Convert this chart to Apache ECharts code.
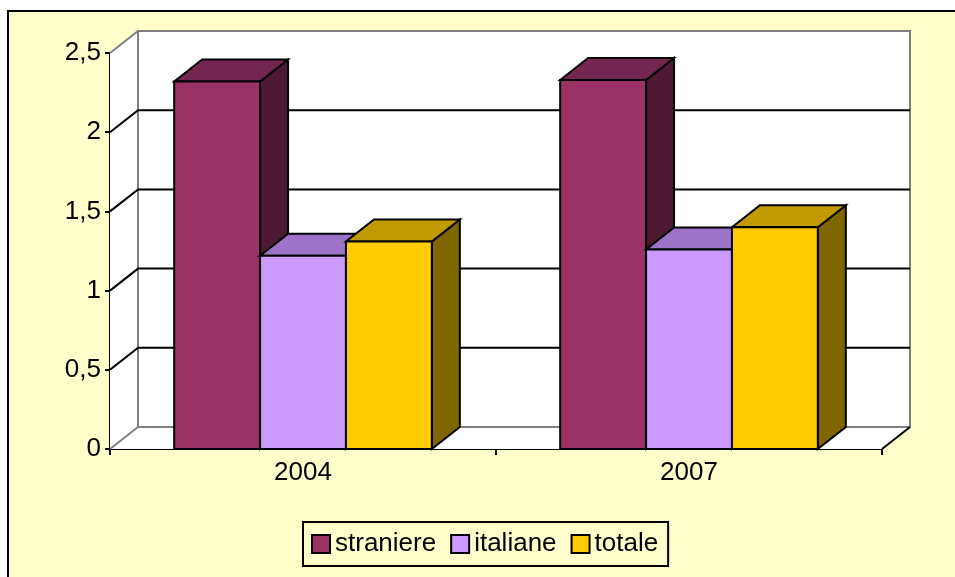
<!DOCTYPE html>
<html style="height: 100%">
<head>
    <meta charset="utf-8">
    <style>
        html, body { margin: 0; padding: 0; background: #fff; }
        #container { width: 955px; height: 577px; }
    </style>
</head>
<body>
<div id="container"></div>
<script src="https://cdn.jsdelivr.net/npm/echarts@6/dist/echarts.min.js"></script>
<script type="text/javascript">
    // dati
    var categories = ['2004', '2007'];
    var straniere = [2.32, 2.33];
    var italiane = [1.22, 1.26];
    var totale = [1.31, 1.40];
    var gridValues = [0.5, 1, 1.5, 2];

    // profondita' della vista 3D (pixel)
    var DX = 28, DY = -22;
    var FONT = 'Liberation Sans, Arial, sans-serif';

    var dom = document.getElementById('container');
    var myChart = echarts.init(dom);

    // pareti, pavimento e linee della griglia
    function renderWalls(params, api) {
        var cs = params.coordSys;
        var L = cs.x, R = cs.x + cs.width, T = cs.y, B = cs.y + cs.height;
        var gray = { stroke: '#808080', lineWidth: 2, fill: null };
        var black = { stroke: '#000', lineWidth: 2, fill: null };
        var children = [
            { type: 'polygon', shape: { points: [[L, T], [L + DX, T + DY], [L + DX, B + DY], [L, B]] }, style: { fill: '#fff' } },
            { type: 'polygon', shape: { points: [[L, B], [L + DX, B + DY], [R + DX, B + DY], [R, B]] }, style: { fill: '#fff' } },
            { type: 'rect', shape: { x: L + DX, y: T + DY, width: R - L, height: B - T }, style: { fill: '#fff', stroke: '#808080', lineWidth: 2 } },
            { type: 'line', shape: { x1: L, y1: T, x2: L + DX, y2: T + DY }, style: gray },
            { type: 'line', shape: { x1: L, y1: B, x2: L + DX, y2: B + DY }, style: gray },
            { type: 'line', shape: { x1: R, y1: B, x2: R + DX, y2: B + DY }, style: black }
        ];
        gridValues.forEach(function (v) {
            var y = api.coord([0, v])[1];
            children.push({
                type: 'polyline',
                shape: { points: [[L, y], [L + DX, y + DY], [R + DX, y + DY]] },
                style: black
            });
        });
        return { type: 'group', children: children };
    }

    function barRenderer(slot, front, top, side) {
        return function (params, api) {
            var cat = api.value(0), v = api.value(1);
            var base = api.coord([cat, 0]);
            var tp = api.coord([cat, v]);
            var bw = api.size([1, 0])[0] * 0.2225;
            var x0 = base[0] + (slot - 1.5) * bw;
            var x1 = x0 + bw;
            var y0 = base[1], y1 = tp[1];
            var line = { stroke: '#000', lineWidth: 2, lineJoin: 'miter' };
            return {
                type: 'group',
                children: [
                    { type: 'polygon', shape: { points: [[x1, y1], [x1 + DX, y1 + DY], [x1 + DX, y0 + DY], [x1, y0]] },
                      style: Object.assign({ fill: side }, line) },
                    { type: 'polygon', shape: { points: [[x0, y1], [x0 + DX, y1 + DY], [x1 + DX, y1 + DY], [x1, y1]] },
                      style: Object.assign({ fill: top }, line) },
                    { type: 'rect', shape: { x: x0, y: y1, width: bw, height: y0 - y1 },
                      style: Object.assign({ fill: front }, line) }
                ]
            };
        };
    }

    function rows(values) {
        return values.map(function (v, i) { return [i, v]; });
    }

    var option = {
        animation: false,
        backgroundColor: '#fff',
        graphic: [{
            type: 'rect', z: -10,
            shape: { x: 8, y: 11, width: 1000, height: 700 },
            style: { fill: '#FFFFCC', stroke: '#000', lineWidth: 2 }
        }],
        grid: { left: 110, right: 73, top: 53, bottom: 128, containLabel: false },
        legend: {
            data: ['straniere', 'italiane', 'totale'],
            left: 303, top: 522,
            icon: 'rect',
            itemWidth: 18, itemHeight: 18, itemGap: 14,
            padding: [9, 10, 9, 8],
            borderColor: '#000', borderWidth: 2,
            itemStyle: { borderColor: '#000', borderWidth: 2 },
            textStyle: { fontSize: 26, color: '#000', fontFamily: FONT, padding: [0, 0, 0, 0] }
        },
        xAxis: {
            type: 'category',
            data: categories,
            axisLine: { lineStyle: { color: '#000', width: 2 } },
            axisTick: { show: true, interval: 0, length: 6, lineStyle: { color: '#000', width: 2 } },
            axisLabel: { fontSize: 26, color: '#000', fontFamily: FONT, margin: 11 },
            splitLine: { show: false }
        },
        yAxis: {
            type: 'value',
            min: 0, max: 2.5, interval: 0.5,
            axisLine: { show: true, lineStyle: { color: '#000', width: 2 } },
            axisTick: { show: true, length: 5, lineStyle: { color: '#000', width: 2 } },
            axisLabel: {
                fontSize: 26, color: '#000', fontFamily: FONT, margin: 9,
                formatter: function (v) { return String(v).replace('.', ','); }
            },
            splitLine: { show: false }
        },
        series: [
            { type: 'custom', name: 'pareti', silent: true, z: 1, renderItem: renderWalls, data: [[0, 0]] },
            { type: 'custom', name: 'straniere', z: 2, itemStyle: { color: '#993366' },
              renderItem: barRenderer(0, '#993366', '#732650', '#4D1933'), data: rows(straniere) },
            { type: 'custom', name: 'italiane', z: 2, itemStyle: { color: '#CC99FF' },
              renderItem: barRenderer(1, '#CC99FF', '#9D73C9', '#664D80'), data: rows(italiane) },
            { type: 'custom', name: 'totale', z: 2, itemStyle: { color: '#FFCC00' },
              renderItem: barRenderer(2, '#FFCC00', '#C09A00', '#806600'), data: rows(totale) }
        ]
    };

    myChart.setOption(option);
</script>
</body>
</html>
